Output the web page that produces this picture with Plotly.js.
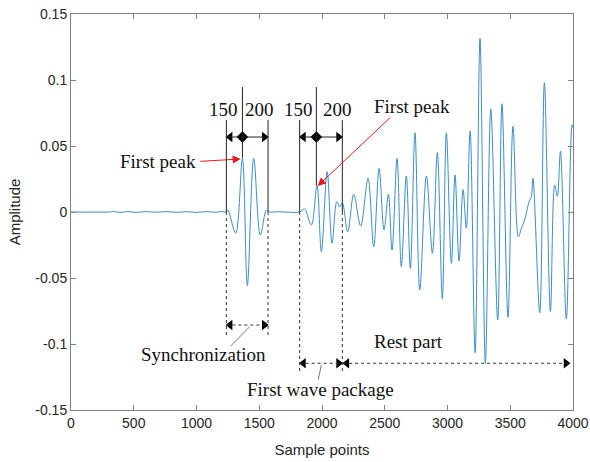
<!DOCTYPE html>
<html>
<head>
<meta charset="utf-8">
<script src="https://cdn.plot.ly/plotly-3.0.1.min.js"></script>
<style>html,body{margin:0;padding:0;background:#fff;}#chart{width:590px;height:462px;}</style>
</head>
<body>
<div id="chart"></div>
<script>
// Waveform extrema (sample index, amplitude)
const samples = [0, 300, 340, 390, 450, 520, 600, 680, 760, 840, 920, 1000, 1080, 1150, 1200, 1238,
  1250, 1312, 1366, 1405, 1456, 1509, 1557, 1580, 1650, 1740, 1822,
  1860, 1915, 1960, 1995, 2041, 2080, 2118, 2141, 2162, 2205, 2253, 2308, 2367, 2412, 2455, 2494, 2529,
  2558, 2598, 2632, 2672, 2704, 2741, 2779, 2832, 2880, 2919, 2959, 2991, 3031, 3060, 3092, 3124, 3150,
  3180, 3220, 3259, 3302, 3345, 3400, 3434, 3482, 3522, 3565, 3590, 3615, 3647, 3668, 3681, 3735, 3772,
  3820, 3854, 3875, 3900, 3947, 3993, 4000];
const amplitude = [0, 0, 0.0003, -0.0003, 0.0003, -0.0003, 0.0003, -0.0002, 0.0003, -0.0003, 0.0002, -0.0003, 0.0003, -0.0002, 0.0003, 0,
  0.0015, -0.016, 0.0407, -0.0558, 0.0407, -0.0174, 0.0012, 0, 0.0002, -0.0002, 0,
  0.0023, -0.0098, 0.020, -0.030, 0.0305, -0.0237, 0.0078, 0.004, 0.0068, -0.015, 0.0134, -0.0106, 0.0255, -0.0263, 0.033, -0.0136, 0.0134,
  -0.0288, 0.0407, -0.0414, 0.0273, -0.0427, 0.060, -0.059, 0.0273, -0.0313, 0.045, -0.066, 0.060, -0.0389, 0.028, -0.0371, 0.017, -0.0122,
  0.0614, -0.1066, 0.1316, -0.1148, 0.078, -0.0818, 0.082, -0.0798, 0.065, -0.0187, -0.012, -0.006, 0.0068, 0.0116, 0.0255, -0.0763, 0.098,
  -0.0753, 0.0205, 0.012, 0.046, -0.081, 0.066, 0.064];

const xTickVals = [0, 500, 1000, 1500, 2000, 2500, 3000, 3500, 4000];
const xTickText = ['0', '500', '1000', '1500', '2000', '2500', '3000', '3500', '4000'];
const yTickVals = [-0.15, -0.1, -0.05, 0, 0.05, 0.1, 0.15];
const yTickText = ['-0.15', '-0.1', '-0.05', '0', '0.05', '0.1', '0.15'];

// Annotation geometry (data coordinates)
const serif = {family: 'Liberation Serif, Times New Roman, serif', size: 19, color: '#111'};
const solid = {color: '#222', width: 1};
const dotted = {color: '#333', width: 1, dash: 'dot'};
function seg(x0, y0, x1, y1, line) {
  return {type: 'line', xref: 'x', yref: 'y', x0: x0, y0: y0, x1: x1, y1: y1, line: line, layer: 'above'};
}
const shapes = [
  seg(1238, 0.0697, 1238, 0, solid), seg(1238, 0, 1238, -0.0932, dotted),
  seg(1570, 0.0697, 1570, 0, solid), seg(1570, 0, 1570, -0.0932, dotted),
  seg(1366, 0.0947, 1366, 0.041, solid),
  seg(1238, 0.0568, 1570, 0.0568, solid),
  seg(1238, -0.0856, 1570, -0.0856, dotted),
  seg(1822, 0.0697, 1822, 0, solid), seg(1822, 0, 1822, -0.121, dotted),
  seg(2162, 0.0697, 2162, 0, solid), seg(2162, 0, 2162, -0.121, dotted),
  seg(1955, 0.0947, 1955, 0.020, solid),
  seg(1822, 0.0568, 2162, 0.0568, solid),
  seg(1822, -0.1146, 2162, -0.1146, dotted),
  seg(2168, -0.1146, 3974, -0.1146, dotted),
  seg(1424, -0.0869, 1273, -0.1015, {color: '#777', width: 1}),
  seg(1995, -0.1159, 1970, -0.127, {color: '#777', width: 1})
];
const headsLeft = {x: [1268, 1852, 1268, 1852, 2198], y: [0.0568, 0.0568, -0.0856, -0.1146, -0.1146]};
const headsRight = {x: [1540, 2132, 1540, 2132, 3944], y: [0.0568, 0.0568, -0.0856, -0.1146, -0.1146]};
const diamonds = {x: [1366, 1955], y: [0.0568, 0.0568]};

function txt(x, y, t) {
  return {x: x, y: y, xref: 'x', yref: 'y', text: t, showarrow: false, font: serif, xanchor: 'center', yanchor: 'middle'};
}
function redArrow(x, y, ax, ay) {
  return {x: x, y: y, ax: ax, ay: ay, xref: 'x', yref: 'y', axref: 'x', ayref: 'y', text: '', showarrow: true,
    arrowcolor: '#e8181c', arrowwidth: 1, arrowhead: 2, arrowsize: 1.6, standoff: 0};
}
const annotations = [
  txt(1213, 0.0773, '150'), txt(1498, 0.0773, '200'),
  txt(1809, 0.0773, '150'), txt(2123, 0.0773, '200'),
  txt(691, 0.0386, 'First peak'), txt(2715, 0.0803, 'First peak'),
  txt(1052, -0.1083, 'Synchronization'),
  txt(1988, -0.1348, 'First wave package'),
  txt(2693, -0.0983, 'Rest part'),
  redArrow(1352, 0.0402, 1019, 0.0383),
  redArrow(1966, 0.0197, 2556, 0.0727)
];

const traces = [
  {x: samples, y: amplitude, type: 'scatter', mode: 'lines', line: {color: '#3a8dcc', width: 1, shape: 'spline', smoothing: 1}, hoverinfo: 'skip'},
  {x: headsLeft.x, y: headsLeft.y, type: 'scatter', mode: 'markers', marker: {symbol: 'triangle-left', size: 9, color: '#000'}, cliponaxis: false, hoverinfo: 'skip'},
  {x: headsRight.x, y: headsRight.y, type: 'scatter', mode: 'markers', marker: {symbol: 'triangle-right', size: 9, color: '#000'}, cliponaxis: false, hoverinfo: 'skip'},
  {x: diamonds.x, y: diamonds.y, type: 'scatter', mode: 'markers', marker: {symbol: 'diamond', size: 9, color: '#000'}, cliponaxis: false, hoverinfo: 'skip'}
];

const axisFont = {family: 'Liberation Sans, Arial, sans-serif', size: 14, color: '#262626'};
const layout = {
  width: 590, height: 462,
  margin: {l: 71, r: 17, t: 14, b: 52},
  paper_bgcolor: '#fff', plot_bgcolor: '#fff',
  showlegend: false,
  xaxis: {range: [0, 4000], tickvals: xTickVals, ticktext: xTickText, ticks: 'inside', ticklen: 5, tickcolor: '#808080',
    showline: true, linecolor: '#808080', linewidth: 1, mirror: 'ticks', showgrid: false, zeroline: false,
    tickfont: axisFont, title: {text: 'Sample points', font: {family: 'Liberation Sans, Arial, sans-serif', size: 15, color: '#262626'}, standoff: 14}},
  yaxis: {range: [-0.15, 0.15], tickvals: yTickVals, ticktext: yTickText, ticks: 'inside', ticklen: 5, tickcolor: '#808080',
    showline: true, linecolor: '#808080', linewidth: 1, mirror: 'ticks', showgrid: false, zeroline: false,
    tickfont: axisFont, title: {text: 'Amplitude', font: {family: 'Liberation Sans, Arial, sans-serif', size: 15, color: '#262626'}, standoff: 11}},
  shapes: shapes,
  annotations: annotations
};
Plotly.newPlot('chart', traces, layout, {displayModeBar: false, staticPlot: true});
</script>
</body>
</html>
